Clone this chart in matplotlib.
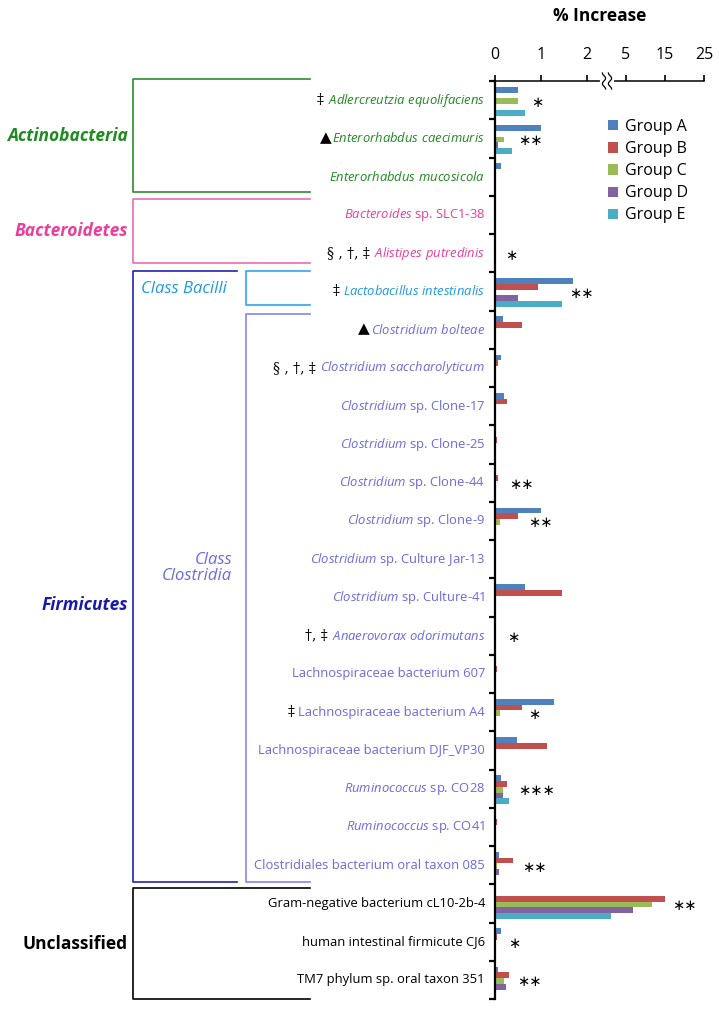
import numpy as np
import matplotlib
matplotlib.use('Agg')
import matplotlib.pyplot as plt

plt.rcParams['font.family'] = ['Open Sans', 'DejaVu Sans']
plt.rcParams['mathtext.fontset'] = 'custom'
plt.rcParams['mathtext.rm'] = 'Open Sans'
plt.rcParams['mathtext.it'] = 'Open Sans:italic'

# species (top to bottom), mathtext used for the italic genus parts
species = [
	r'$\mathit{Adlercreutzia\ equolifaciens}$',
	r'$\mathit{Enterorhabdus\ caecimuris}$',
	r'$\mathit{Enterorhabdus\ mucosicola}$',
	r'$\mathit{Bacteroides}$ sp. SLC1-38',
	r'$\mathit{Alistipes\ putredinis}$',
	r'$\mathit{Lactobacillus\ intestinalis}$',
	r'$\mathit{Clostridium\ bolteae}$',
	r'$\mathit{Clostridium\ saccharolyticum}$',
	r'$\mathit{Clostridium}$ sp. Clone-17',
	r'$\mathit{Clostridium}$ sp. Clone-25',
	r'$\mathit{Clostridium}$ sp. Clone-44',
	r'$\mathit{Clostridium}$ sp. Clone-9',
	r'$\mathit{Clostridium}$ sp. Culture Jar-13',
	r'$\mathit{Clostridium}$ sp. Culture-41',
	r'$\mathit{Anaerovorax\ odorimutans}$',
	'Lachnospiraceae bacterium 607',
	'Lachnospiraceae bacterium A4',
	'Lachnospiraceae bacterium DJF_VP30',
	r'$\mathit{Ruminococcus}$ sp. CO28',
	r'$\mathit{Ruminococcus}$ sp. CO41',
	'Clostridiales bacterium oral taxon 085',
	'Gram-negative bacterium cL10-2b-4',
	'human intestinal firmicute CJ6',
	'TM7 phylum sp. oral taxon 351',
]

prefixes = ['‡', '▲', '', '', '§ , †, ‡', '‡', '▲', '§ , †, ‡', '', '', '', '', '', '',
			'†, ‡', '', '‡', '', '', '', '', '', '', '']

clade = ['actino'] * 3 + ['bactero'] * 2 + ['bacilli'] + ['clostridia'] * 15 + ['unclass'] * 3

group_names = ['Group A', 'Group B', 'Group C', 'Group D', 'Group E']

group_a = [0.5, 1.0, 0.13, 0, 0, 1.7, 0.18, 0.12, 0.2, 0, 0, 1.0, 0, 0.65, 0, 0, 1.28, 0.48, 0.14, 0, 0.08, 0, 0.13, 0.07]
group_b = [0, 0, 0, 0.03, 0, 0.93, 0.59, 0.06, 0.27, 0.05, 0.06, 0.5, 0, 1.45, 0.02, 0.04, 0.58, 1.13, 0.27, 0.05, 0.4, 15.0, 0.04, 0.3]
group_c = [0.5, 0.2, 0, 0, 0, 0, 0, 0, 0, 0, 0, 0.1, 0.02, 0, 0, 0, 0.1, 0, 0.18, 0, 0.05, 11.6, 0, 0.2]
group_d = [0, 0.07, 0, 0, 0, 0.5, 0, 0, 0, 0, 0, 0, 0, 0, 0, 0, 0, 0, 0.18, 0, 0.08, 6.8, 0, 0.24]
group_e = [0.65, 0.37, 0, 0, 0, 1.46, 0, 0, 0, 0, 0, 0, 0, 0, 0, 0, 0.03, 0, 0.3, 0, 0, 2.6, 0, 0]

# significance marks per species index
sig = {0: '∗', 1: '∗∗', 4: '∗', 5: '∗∗', 10: '∗∗', 11: '∗∗', 14: '∗', 16: '∗',
	   18: '∗∗∗', 20: '∗∗', 21: '∗∗', 22: '∗', 23: '∗∗'}

xticks = [0, 1, 2, 5, 15, 25]

bar_colors = ['#4F81BD', '#C0504D', '#9BBB59', '#8064A2', '#4BACC6']
clade_colors = {'actino': '#1f8a1f', 'bactero': '#ec3d9b', 'bacilli': '#1d9ae6',
				'clostridia': '#6a6ae4', 'unclass': 'black'}

# broken axis: linear 0-2.5, compressed 2.5-5, then 5-25 squeezed
def fwd(v):
	v = np.asarray(v, dtype=float)
	return np.where(v <= 2.5, v, np.where(v <= 5, 2.5 + (v - 2.5) * 0.14, 2.85 + (v - 5) * 0.0848))

def inv(u):
	u = np.asarray(u, dtype=float)
	return np.where(u <= 2.5, u, np.where(u <= 2.85, 2.5 + (u - 2.5) / 0.14, 5 + (u - 2.85) / 0.0848))


fig = plt.figure(figsize=(7.19, 10.09), dpi=100)
ax = fig.add_axes([495 / 719, 1 - 999 / 1009, 209 / 719, 918 / 1009])
ax.set_xscale('function', functions=(fwd, inv))

y = np.arange(len(species))
series = [group_a, group_b, group_c, group_d, group_e]
for k, (vals, col, name) in enumerate(zip(series, bar_colors, group_names)):
	ax.barh(y + (k - 2) * 0.15 + 0.03, vals, height=0.15, color=col, label=name, linewidth=0)

ax.set_xlim(0, 25)
ax.set_ylim(len(species) - 0.5, -0.5)
ax.set_xticks(xticks)
ax.set_xticklabels([str(t) for t in xticks])
ax.set_yticks(np.arange(-0.5, len(species), 1))
ax.set_yticklabels([])
ax.xaxis.tick_top()
ax.tick_params(axis='x', direction='out', length=4, width=1.2, labelsize=11.5, pad=9)
ax.tick_params(axis='y', direction='out', length=4.5, width=1.6)
ax.spines['right'].set_visible(False)
ax.spines['bottom'].set_visible(False)
ax.spines['left'].set_linewidth(1.6)
ax.spines['top'].set_linewidth(1.1)

# axis break mark
bx = (607 - 495) / 209
ax.plot([bx - 0.022, bx + 0.022], [1, 1], color='white', lw=3, transform=ax.transAxes, clip_on=False, zorder=5)
t = np.linspace(-1, 1, 30)
for dx in (-3.0, 3.0):
	ax.plot(bx + (dx + 1.6 * np.sin(t * np.pi * 1.5)) / 209, 1 + t * 8 / 918, color='black', lw=0.9,
			transform=ax.transAxes, clip_on=False, zorder=6)

fig.text(600 / 719, 1 - 16 / 1009, '% Increase', ha='center', va='center', fontsize=12.5, fontweight='bold')

trans = ax.get_yaxis_transform()

# species labels
label_x = (485 - 495) / 209
texts = []
for i, name in enumerate(species):
	txt = ax.text(label_x, i, name, transform=trans, ha='right', va='center', fontsize=9.4,
				  color=clade_colors[clade[i]])
	texts.append(txt)

# significance stars (left edge positions in pixels of the axes)
sig_px = {0: 531, 1: 518, 4: 505, 5: 569, 10: 509, 11: 528, 14: 507, 16: 528, 18: 518,
		  20: 522, 21: 672, 22: 508, 23: 517}
for i, s in sig.items():
	ax.text((sig_px[i] - 495) / 209, i + 0.05, s, transform=trans, ha='left', va='center',
			fontsize=10.5, family='DejaVu Sans')

# legend
ax.legend(loc='upper left', bbox_to_anchor=((608 - 495) / 209, 1 - (119 - 81) / 918), frameon=False,
		  fontsize=11.5, handlelength=0.6, handleheight=0.6, handletextpad=0.45, labelspacing=0.38,
		  borderpad=0, borderaxespad=0)

# brackets: (y top, y bottom, x left px, x right px, color)
brackets = [
	(-0.55, 2.40, 133, 310, '#2e8b2e'),
	(2.585, 4.26, 133, 310, '#f06ab0'),
	(4.47, 20.44, 133, 237, '#2323b0'),
	(4.47, 5.36, 246, 310, '#31a4ec'),
	(5.59, 20.44, 246, 310, '#8585ea'),
	(20.6, 23.5, 133, 310, 'black'),
]
for y0, y1, x0, x1, col in brackets:
	xa, xb = (x0 - 495) / 209, (x1 - 495) / 209
	ax.plot([xb, xa, xa, xb], [y0, y0, y1, y1], color=col, lw=1.2, transform=trans, clip_on=False)

gx = (128 - 495) / 209
ax.text(gx, 0.925, 'Actinobacteria', transform=trans, ha='right', va='center', fontsize=12.5,
		fontweight='bold', style='italic', color=clade_colors['actino'])
ax.text(gx, 3.42, 'Bacteroidetes', transform=trans, ha='right', va='center', fontsize=12.5,
		fontweight='bold', style='italic', color=clade_colors['bactero'])
ax.text(gx, 13.2, 'Firmicutes', transform=trans, ha='right', va='center', fontsize=12.5,
		fontweight='bold', style='italic', color='#1a1aa8')
ax.text(gx, 22.05, 'Unclassified', transform=trans, ha='right', va='center', fontsize=12.5,
		fontweight='bold', color='black')
ax.text((141 - 495) / 209, 4.93, 'Class Bacilli', transform=trans, ha='left', va='center', fontsize=12,
		style='italic', color=clade_colors['bacilli'])
ax.text((232 - 495) / 209, 12.23, 'Class\nClostridia', transform=trans, ha='right', va='center', fontsize=12,
		style='italic', color=clade_colors['clostridia'], linespacing=1.05)

# prefix symbols placed just left of each species label
fig.canvas.draw()
renderer = fig.canvas.get_renderer()
for i, p in enumerate(prefixes):
	if not p:
		continue
	bb = texts[i].get_window_extent(renderer)
	gap = 1 if p == '▲' else 4
	xa = ax.transAxes.inverted().transform((bb.x0 - gap, 0))[0]
	ax.text(xa, i, p, transform=trans, ha='right', va='center', fontsize=11 if p == '▲' else 10,
			family=['DejaVu Serif', 'DejaVu Sans'], color='black')

fig.savefig('out.png', dpi=100)
